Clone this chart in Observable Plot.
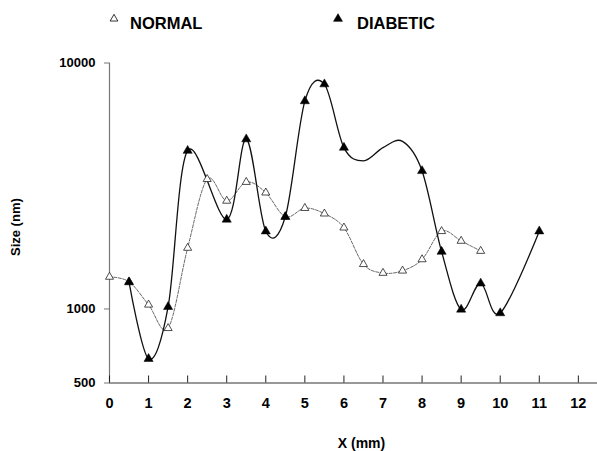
<!DOCTYPE html>
<html>
<head>
<meta charset="utf-8">
<script src="https://cdn.jsdelivr.net/npm/d3@7"></script>
<script src="https://cdn.jsdelivr.net/npm/@observablehq/plot@0.6"></script>
<style>
  html, body { margin: 0; padding: 0; background: #fff; }
  #wrap { width: 597px; font-family: "Liberation Sans", Arial, sans-serif; }
  #legend { position: relative; height: 45px; width: 597px; }
  #legend .item { position: absolute; top: 15px; font-size: 16.5px; font-weight: bold; line-height: 1; color: #000; }
  #legend svg { position: absolute; }
</style>
</head>
<body>
<div id="wrap">
  <div id="legend"></div>
  <div id="chart"></div>
</div>
<script>
// ---- data ----
const normalX    = [0, 0.5, 1, 1.5, 2, 2.5, 3, 3.5, 4, 4.5, 5, 5.5, 6, 6.5, 7, 7.5, 8, 8.5, 9, 9.5];
const normalSize = [1350, 1290, 1040, 835, 1770, 3370, 2750, 3280, 2970, 2370, 2570, 2440, 2140, 1520, 1400, 1430, 1590, 2070, 1890, 1720];

const diabeticX      = [0.5, 1, 1.5, 2, 3, 3.5, 4, 4.5, 5, 5.5, 6, 6.5, 7, 7.5, 8, 8.5, 9, 9.5, 10, 11];
const diabeticSize   = [1285, 627, 1020, 4400, 2310, 4900, 2070, 2370, 7000, 8200, 4530, 4000, 4530, 4800, 3640, 1710, 995, 1270, 962, 2070];
const diabeticMarked = [true, true, true, true, true, true, true, true, true, true, true, false, false, false, true, true, true, true, true, true];

const xTicks = [0, 1, 2, 3, 4, 5, 6, 7, 8, 9, 10, 11, 12];
const yTicks = [500, 1000, 10000];
const seriesNames = ["NORMAL", "DIABETIC"];

const normal = normalX.map((x, i) => ({x, y: normalSize[i]}));
const diabetic = diabeticX.map((x, i) => ({x, y: diabeticSize[i], marked: diabeticMarked[i]}));

// ---- legend ----
const legend = document.getElementById("legend");
function addLegend(name, left, filled, triLeft) {
  const s = document.createElementNS("http://www.w3.org/2000/svg", "svg");
  s.setAttribute("width", 10); s.setAttribute("height", 10);
  s.style.left = triLeft + "px"; s.style.top = "13px";
  const p = document.createElementNS("http://www.w3.org/2000/svg", "path");
  p.setAttribute("d", d3.symbol(d3.symbolTriangle, filled ? 34 : 26)());
  p.setAttribute("transform", "translate(5,5.8)");
  p.setAttribute("fill", filled ? "#000" : "none");
  p.setAttribute("stroke", "#000");
  p.setAttribute("stroke-width", filled ? 0.6 : 0.8);
  s.appendChild(p);
  legend.appendChild(s);
  const t = document.createElement("div");
  t.className = "item"; t.textContent = name; t.style.left = left + "px";
  legend.appendChild(t);
}
addLegend(seriesNames[0], 130, false, 109);
addLegend(seriesNames[1], 357, true, 333);

// ---- chart ----
const font = {fontFamily: "Liberation Sans, Arial, sans-serif", fontSize: "14px", fontWeight: "bold"};
const chart = Plot.plot({
  width: 597,
  height: 406,
  marginLeft: 109,
  marginRight: 0,
  marginTop: 17.5,
  marginBottom: 68.5,
  style: {...font, background: "white", color: "#000"},
  x: {domain: [0, 12.49]},
  y: {type: "log", domain: [500, 10000]},
  marks: [
    Plot.ruleX([0], {y1: 500, y2: 10000, stroke: "#777", strokeWidth: 1.2}),
    Plot.ruleY([500], {x1: 0, x2: 12.49, stroke: "#333", strokeWidth: 1}),
    Plot.axisX(xTicks, {tickSize: -7, tickPadding: 22, stroke: "#222", fontSize: 14.5, fontWeight: "bold", style: {letterSpacing: "1.5px"}, label: null}),
    Plot.axisY(yTicks, {tickSize: 5, tickPadding: 9, tickFormat: d => String(d), stroke: "#777", fontSize: 13, fontWeight: "bold", style: {letterSpacing: "1px"}, label: null}),
    Plot.line(normal, {x: "x", y: "y", curve: "cardinal", stroke: "#555", strokeWidth: 0.9, strokeDasharray: "3,1.5"}),
    Plot.line(diabetic, {x: "x", y: "y", curve: "cardinal", stroke: "#111", strokeWidth: 1.3}),
    Plot.dot(normal, {x: "x", y: "y", symbol: "triangle", r: 3, stroke: "#222", strokeWidth: 0.8, fill: "white"}),
    Plot.dot(diabetic.filter(d => d.marked), {x: "x", y: "y", symbol: "triangle", r: 3.4, fill: "#000", stroke: "#000", strokeWidth: 0.5}),
    Plot.text(["X (mm)"], {frameAnchor: "bottom", dx: 8, dy: 65, fontSize: 14, fontWeight: "bold", style: {letterSpacing: "1px"}}),
    Plot.text(["Size (nm)"], {frameAnchor: "left", rotate: -90, dx: -94, dy: 33, fontSize: 13, fontWeight: "bold"})
  ]
});
document.getElementById("chart").appendChild(chart);
</script>
</body>
</html>
